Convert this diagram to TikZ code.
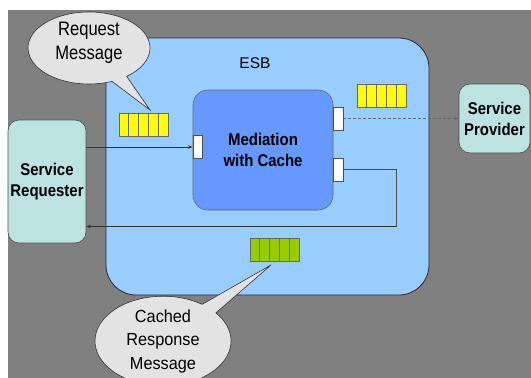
\documentclass[tikz,border=0pt]{standalone}
\usepackage{fontspec}
\setmainfont{Liberation Sans}
\newfontfamily\labelface[FakeStretch=0.88]{Liberation Sans}
\newfontfamily\bubbleface[FakeStretch=0.85]{Liberation Sans}
\newfontfamily\bubblefaceb[FakeStretch=0.93]{Liberation Sans}
\usetikzlibrary{shapes.callouts,arrows.meta,calc}

\definecolor{bggray}{HTML}{808080}
\definecolor{esbblue}{HTML}{99CCFF}
\definecolor{medblue}{HTML}{6699FF}
\definecolor{svccyan}{HTML}{BCE2E2}
\definecolor{bubble}{HTML}{E3E3E3}
\definecolor{qyellow}{HTML}{FFFF00}
\definecolor{qgreen}{HTML}{99CC00}

\tikzset{
  esbfont/.style={font=\fontsize{15.5}{20}\selectfont},
  boldlabel/.style={font=\labelface\fontsize{17}{21}\selectfont\bfseries},
  esbbox/.style={draw=black!85, line width=0.8pt, fill=esbblue, rounded corners=30pt,
    minimum width=323pt, minimum height=257pt, inner sep=0pt},
  medbox/.style={draw=black!60, line width=0.6pt, fill=medblue, rounded corners=15pt,
    minimum width=140pt, minimum height=120pt, align=center, boldlabel},
  svcbox/.style={draw=black!70, line width=0.6pt, fill=svccyan, rounded corners=11pt,
    align=center, boldlabel, inner sep=0pt},
  port/.style={draw=black!70, line width=0.5pt, fill=white,
    minimum width=9.5pt, minimum height=23pt, inner sep=0pt},
  queuebox/.style={draw=black!60, line width=0.5pt, minimum width=49pt,
    minimum height=23pt, inner sep=0pt},
  speech/.style={ellipse callout, draw=black!80, line width=0.6pt, fill=bubble,
    align=center, inner sep=0pt, callout pointer arc=16},
  bubbletext/.style={align=center, inner sep=0pt},
  flow/.style={line width=0.6pt, draw=black!80, -{Stealth[length=4.5pt,width=3.5pt]}},
  plain/.style={line width=0.6pt, draw=black!70},
}

% a five-slot message queue: a filled box split by four dividers
\newcommand\msgqueue[3]{%
  \node[queuebox, fill=#2] (#1) at #3 {};
  \foreach \k in {1,...,4}
    \draw[black!60, line width=0.5pt]
      ($(#1.north west)!\k/5!(#1.north east)$) -- ($(#1.south west)!\k/5!(#1.south east)$);
}

\begin{document}
\begin{tikzpicture}[x=1pt, y=-1pt]
  \useasboundingbox (0,0) rectangle (531,378);
  \clip (0,0) rectangle (531,378);
  \fill[white] (0,0) rectangle (531,378);
  \fill[bggray] (8,10) rectangle (531,378);

  % enterprise service bus
  \node[esbbox] (esb) at (267.5,166.5) {};
  \node[esbfont] (esblabel) at (255,63) {ESB};

  % mediation component and its ports
  \node[medbox] (med) at (263,150) {Mediation\\with Cache};
  \node[port] (inport) at (197.5,147) {};
  \node[port] (outreq) at (338,118.5) {};
  \node[port] (outresp) at (338,169.5) {};

  % service endpoints
  \node[svcbox, minimum width=78pt, minimum height=123pt] (req) at (47,181.5) {Service\\Requester};
  \node[svcbox, minimum width=71pt, minimum height=69pt] (prov) at (494.5,118.5) {Service\\Provider};

  % message queues
  \msgqueue{reqq}{qyellow}{(143.5,124.5)}
  \msgqueue{fwdq}{qyellow}{(381.5,96)}
  \msgqueue{cacheq}{qgreen}{(274.5,249.5)}

  % message flow
  \draw[flow] (req.east |- inport) -- (inport.west);
  \draw[flow, densely dashed, draw=black!60] (outreq.east) -- (prov.west |- outreq);
  \coordinate (retcorner) at (396,226.5);
  \draw[plain] (outresp.east) -| (retcorner);
  \draw[flow] (retcorner) -- (req.east |- retcorner);

  % callouts
  \coordinate (reqtip) at (150,110);
  \node[speech, minimum width=122pt, minimum height=72pt, callout absolute pointer=(reqtip)]
    (reqbubble) at (89,48) {};
  \node[bubbletext, font=\bubbleface\fontsize{19.5}{24}\selectfont]
    (reqtext) at (89,43) {Request\\Message};
  \coordinate (cachetip) at (271,265);
  \node[speech, minimum width=136pt, minimum height=86pt, callout absolute pointer=(cachetip),
    font=\bubblefaceb\fontsize{17.5}{23.5}\selectfont]
    (cachebubble) at (163,341) {Cached\\Response\\Message};
\end{tikzpicture}
\end{document}
